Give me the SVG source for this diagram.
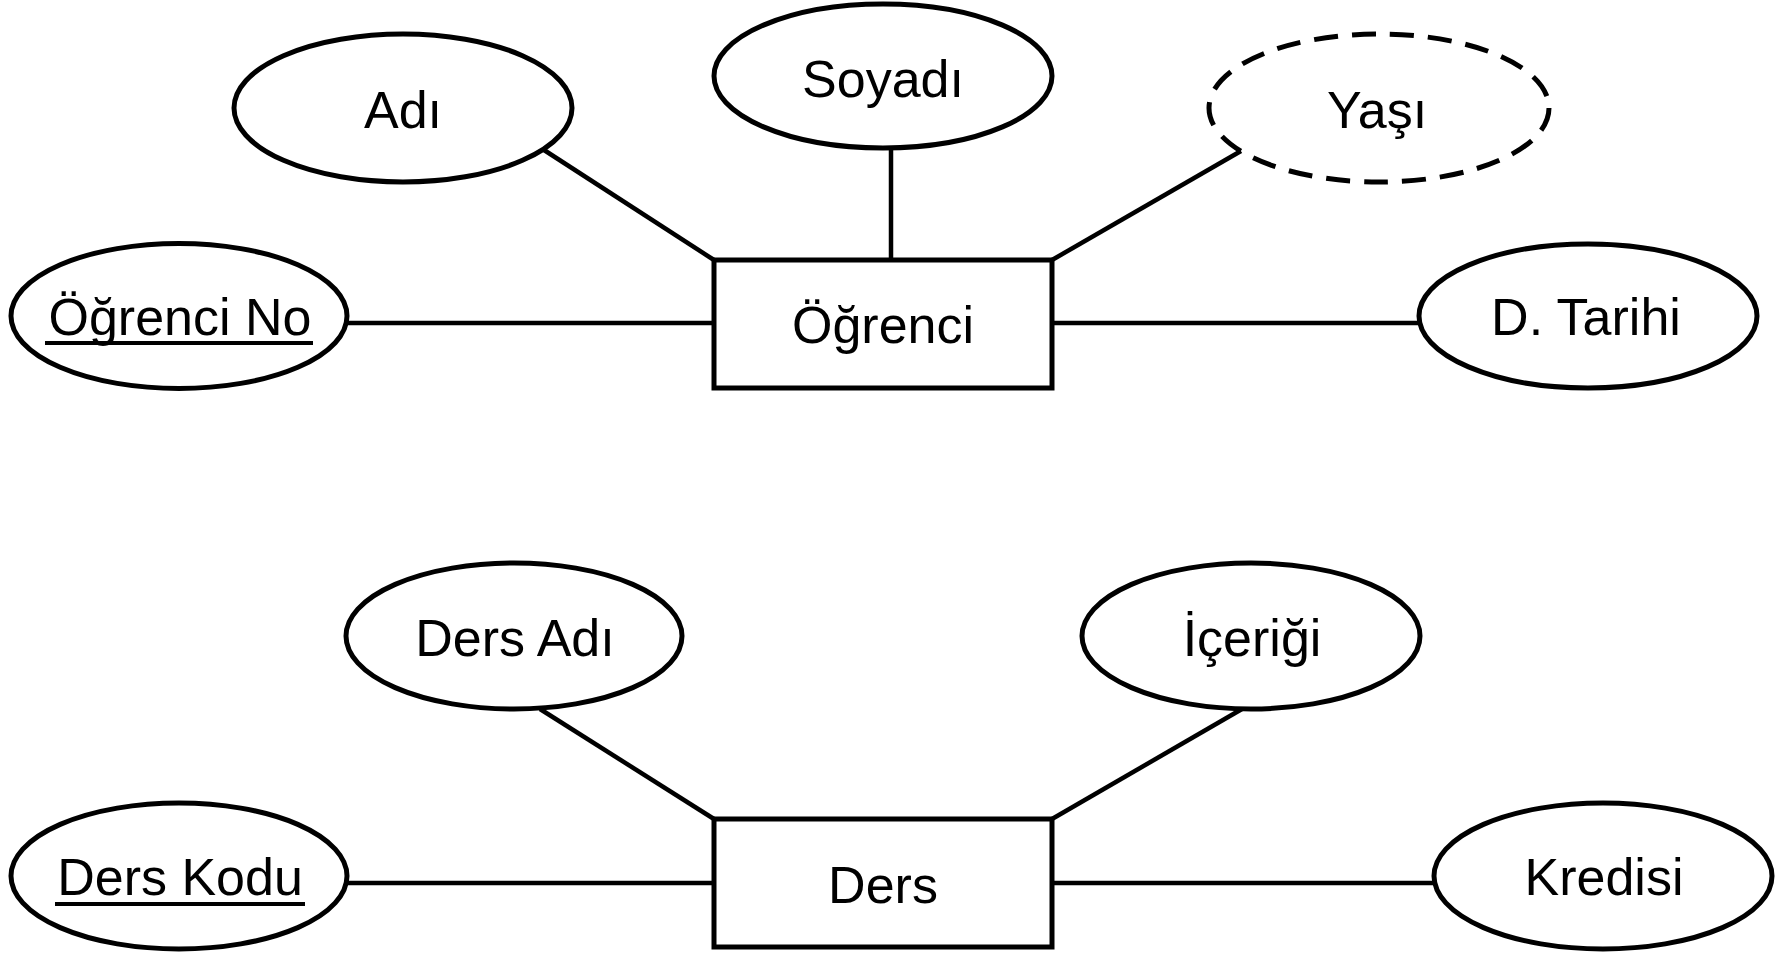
<svg xmlns="http://www.w3.org/2000/svg" width="1791" height="953" viewBox="0 0 1791 953">
  <style>
    .bg { fill: #ffffff; }
    .entity { fill: #ffffff; stroke: #000000; stroke-width: 5; }
    .attr { fill: #ffffff; stroke: #000000; stroke-width: 5; }
    .derived { stroke-dasharray: 24 14; }
    .link { stroke: #000000; stroke-width: 4.5; fill: none; }
    .key { stroke: #000000; stroke-width: 4; }
    .label { font-family: "Liberation Sans", Arial, sans-serif; font-size: 52px; fill: #000000; text-anchor: middle; }
  </style>
  <rect class="bg" x="0" y="0" width="1791" height="953"/>

  <!-- connectors between entities and their attributes -->
  <g id="connectors">
    <line class="link" x1="544" y1="150" x2="714" y2="260"/>
    <line class="link" x1="891" y1="147" x2="891" y2="260"/>
    <line class="link" x1="1241" y1="151" x2="1052" y2="260"/>
    <line class="link" x1="347" y1="323" x2="714" y2="323"/>
    <line class="link" x1="1052" y1="323" x2="1418" y2="323"/>
    <line class="link" x1="540" y1="709" x2="714" y2="819"/>
    <line class="link" x1="1242" y1="709" x2="1052" y2="819"/>
    <line class="link" x1="347" y1="883" x2="714" y2="883"/>
    <line class="link" x1="1052" y1="883" x2="1434" y2="883"/>
  </g>

  <!-- Öğrenci entity and attributes -->
  <g id="ogrenci">
    <rect class="entity" x="714" y="260" width="338" height="128"/>
    <text class="label" x="883" y="343">Öğrenci</text>
  </g>
  <g id="adi">
    <ellipse class="attr" cx="403" cy="108" rx="169" ry="74"/>
    <text class="label" x="403" y="128">Adı</text>
  </g>
  <g id="soyadi">
    <ellipse class="attr" cx="883" cy="76" rx="169" ry="72"/>
    <text class="label" x="883" y="97">Soyadı</text>
  </g>
  <g id="yasi">
    <ellipse class="attr derived" cx="1379" cy="108" rx="170" ry="74"/>
    <text class="label" x="1377" y="128">Yaşı</text>
  </g>
  <g id="ogrenci-no">
    <ellipse class="attr" cx="179" cy="316" rx="168" ry="72.5"/>
    <text class="label" x="180" y="335">Öğrenci No</text>
    <line class="key" x1="45" y1="343" x2="313" y2="343"/>
  </g>
  <g id="d-tarihi">
    <ellipse class="attr" cx="1588" cy="316" rx="169" ry="72"/>
    <text class="label" x="1586" y="335">D. Tarihi</text>
  </g>

  <!-- Ders entity and attributes -->
  <g id="ders">
    <rect class="entity" x="714" y="819" width="338" height="128"/>
    <text class="label" x="883" y="903">Ders</text>
  </g>
  <g id="ders-adi">
    <ellipse class="attr" cx="514" cy="636" rx="168" ry="73"/>
    <text class="label" x="515" y="656">Ders Adı</text>
  </g>
  <g id="icerigi">
    <ellipse class="attr" cx="1251" cy="636" rx="169" ry="73"/>
    <text class="label" x="1252" y="656">İçeriği</text>
  </g>
  <g id="ders-kodu">
    <ellipse class="attr" cx="179" cy="876" rx="168" ry="73"/>
    <text class="label" x="180" y="895">Ders Kodu</text>
    <line class="key" x1="55" y1="904" x2="305" y2="904"/>
  </g>
  <g id="kredisi">
    <ellipse class="attr" cx="1603" cy="876" rx="169" ry="73"/>
    <text class="label" x="1604" y="895">Kredisi</text>
  </g>
</svg>
